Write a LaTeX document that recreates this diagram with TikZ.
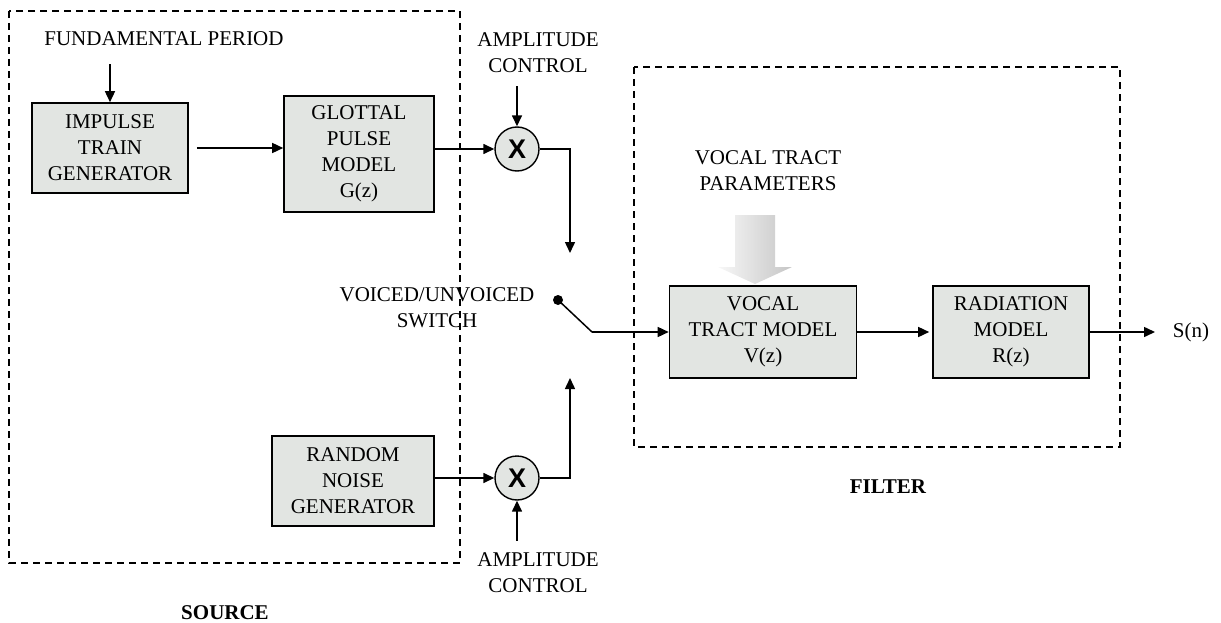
\documentclass[tikz,border=0pt]{standalone}
\usepackage{fontspec}
\setmainfont{Liberation Serif}
\newfontfamily\xfont{Liberation Sans}
\usetikzlibrary{arrows.meta,calc}
\definecolor{boxgray}{RGB}{226,229,226}
\begin{document}
\begin{tikzpicture}[x=1pt,y=-1pt,
  txt/.style={font=\fontsize{21}{26}\selectfont, align=center, inner sep=0pt},
  blk/.style={draw, line width=1.6pt, fill=boxgray, txt},
  mul/.style={draw, circle, line width=1.4pt, fill=boxgray, minimum size=44pt, inner sep=0pt},
  arr/.style={line width=1.5pt, -{Triangle[length=11pt,width=10pt]}},
  ln/.style={line width=1.5pt},
  grp/.style={draw, line width=1.4pt, dash pattern=on 7pt off 5pt},
  bold/.style={font=\fontsize{21}{26}\selectfont\bfseries, inner sep=0pt}]
\useasboundingbox (0,0) rectangle (1221,623);
% group boxes
\draw[grp] (9,11) rectangle (460,563);
\draw[grp] (634,67) rectangle (1120,447);
% blocks
\node[blk, minimum width=156pt, minimum height=90pt] (imp) at (110,148) {IMPULSE\\TRAIN\\GENERATOR};
\node[blk, minimum width=150pt, minimum height=116pt] (glot) at (359,154) {GLOTTAL\\PULSE\\MODEL\\G(z)};
\node[blk, minimum width=162pt, minimum height=90pt] (rn) at (353,481) {RANDOM\\NOISE\\GENERATOR};
\node[blk, minimum width=187pt, minimum height=92pt] (vt) at (763,332) {VOCAL\\TRACT MODEL\\V(z)};
\node[blk, minimum width=156pt, minimum height=92pt] (rad) at (1011,332) {RADIATION\\MODEL\\R(z)};
\node[mul] (m1) at (517,149) {\xfont\bfseries\fontsize{27}{27}\selectfont X};
\node[mul] (m2) at (517,478) {\xfont\bfseries\fontsize{27}{27}\selectfont X};
% labels
\node[txt] (fp) at (164,39) {FUNDAMENTAL PERIOD};
\node[txt] (amp1) at (538,53) {AMPLITUDE\\CONTROL};
\node[txt] (amp2) at (538,573) {AMPLITUDE\\CONTROL};
\node[txt] (swl) at (437,308) {VOICED/UNVOICED\\SWITCH};
\node[txt] (vtp) at (768,171) {VOCAL TRACT\\PARAMETERS};
\node[txt] (sn) at (1191,332) {S(n)};
\node[bold] (src) at (225,613) {SOURCE};
\node[bold] (flt) at (888,487) {FILTER};
% connectors
\draw[arr] ($(imp.north)+(0,-38)$) -- (imp.north);
\draw[arr] ($(imp.east)+(8,0)$) -- (glot.west |- imp.east);
\draw[arr] (glot.east |- m1) -- (m1.west);
\draw[arr] ($(m1.north)+(0,-40)$) -- (m1.north);
\coordinate (up) at (570,253);
\draw[arr] (m1.east) -| (up);
\coordinate (lo) at (570,378);
\draw[arr] (m2.east) -| (lo);
\draw[arr] (rn.east |- m2) -- (m2.west);
\draw[arr] ($(m2.south)+(0,40)$) -- (m2.south);
\coordinate (sw) at (558,300);
\coordinate (sk) at (592,332);
\fill (sw) circle (5pt);
\draw[ln] (sw) -- (sk);
\draw[arr] (sk) -- (vt.west);
\draw[arr, shorten >=3pt] (vt.east) -- (rad.west);
\coordinate (out) at (1155,332);
\draw[arr] (rad.east) -- (out);
% vocal tract parameters block arrow
\shade[left color=gray!6, right color=gray!45] (735,215) -- (775,215) -- (775,267) -- (792,267) -- (755,284) -- (718,267) -- (735,267) -- cycle;
\end{tikzpicture}
\end{document}
